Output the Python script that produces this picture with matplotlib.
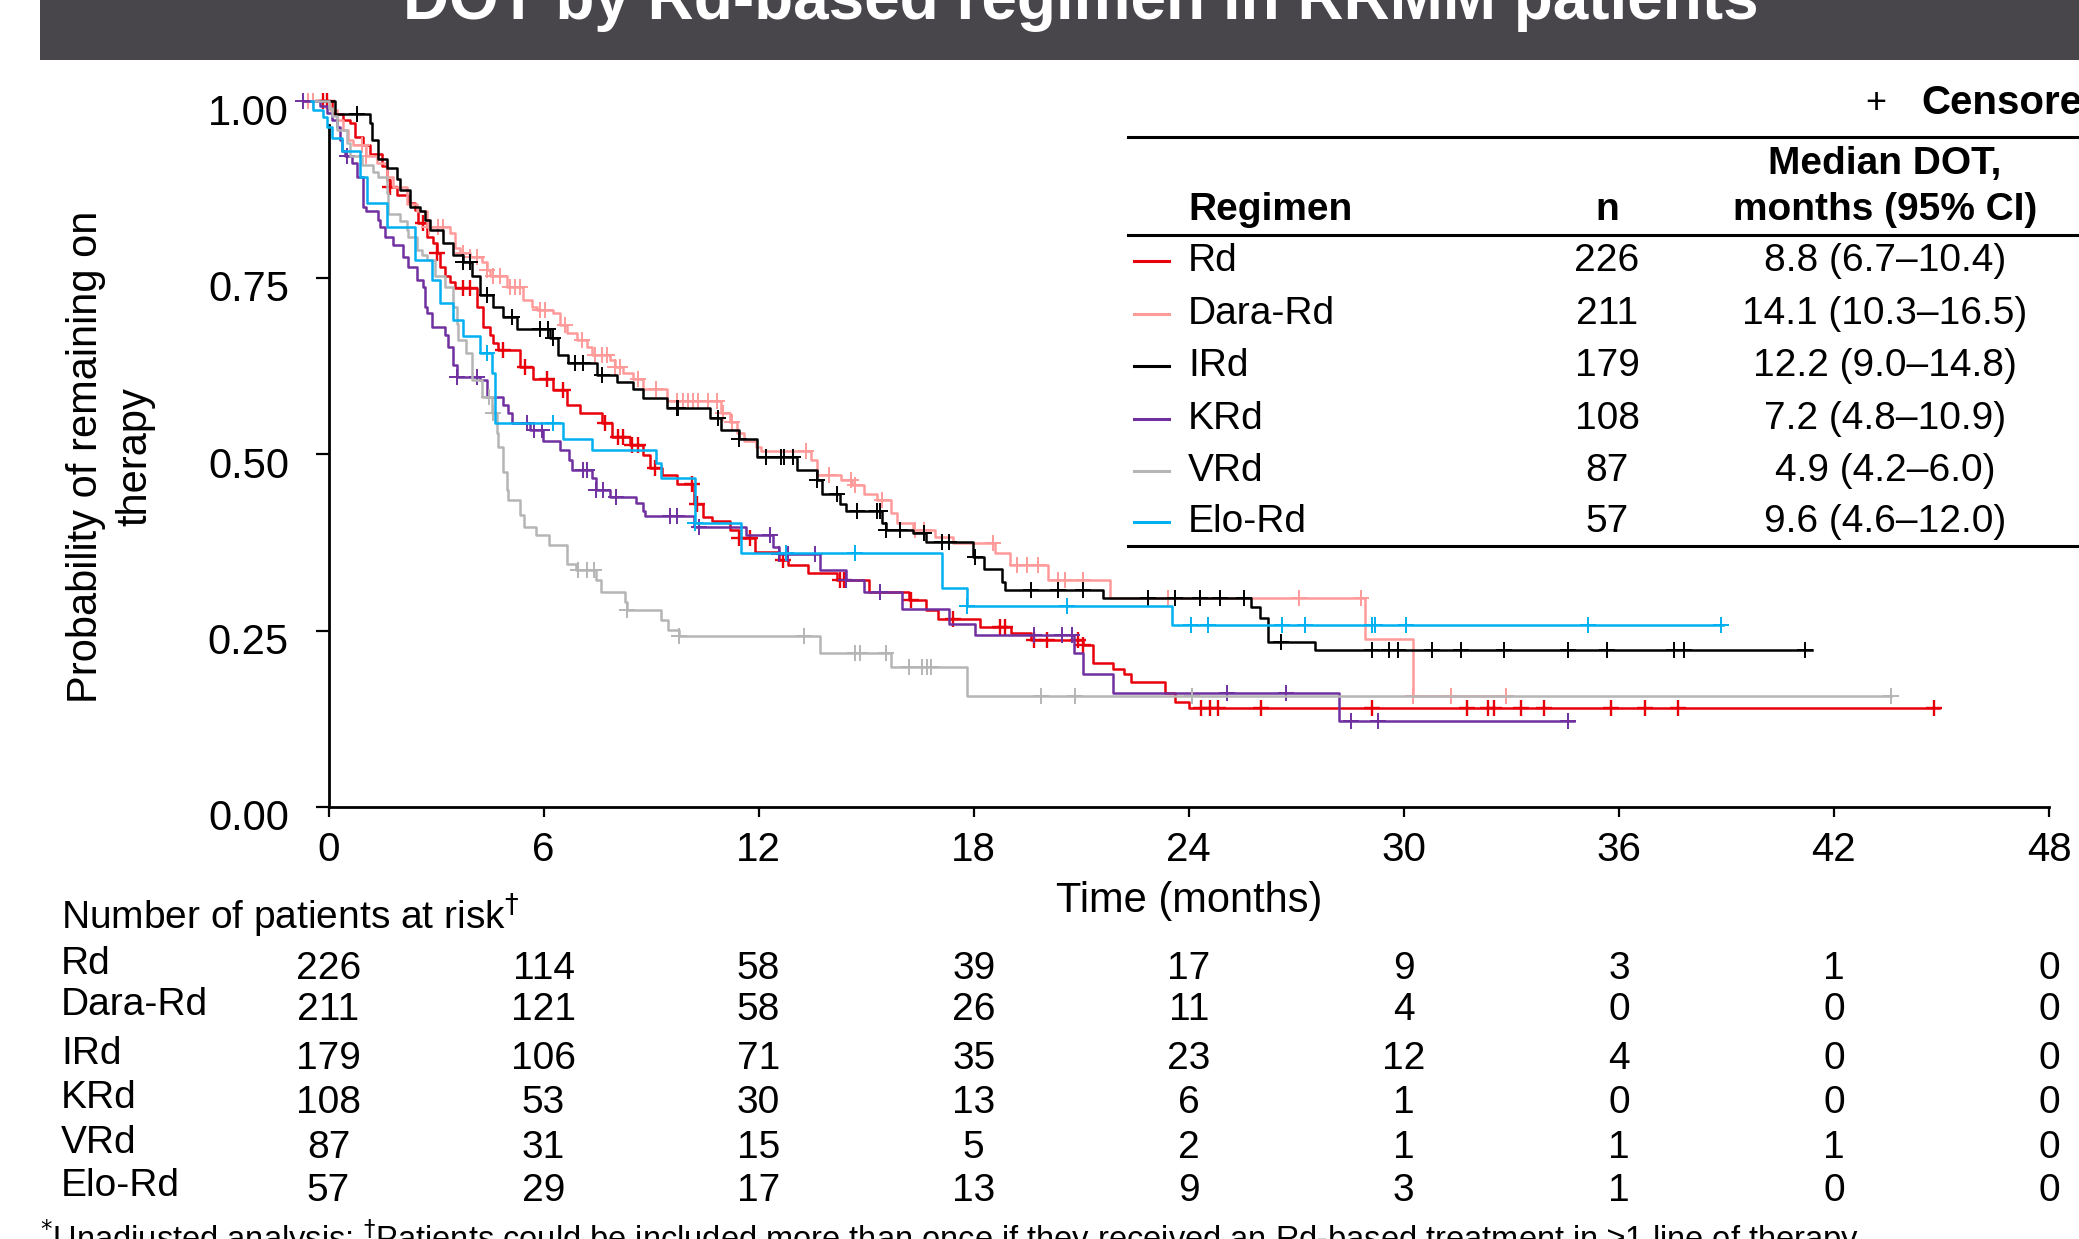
import numpy as np
import matplotlib.pyplot as plt
from matplotlib.lines import Line2D
from matplotlib.patches import Rectangle
from matplotlib.transforms import blended_transform_factory, ScaledTranslation

plt.rcParams['font.family'] = ['Liberation Sans', 'DejaVu Sans']

W, H = 2079, 1239

regimens = ['Rd', 'Dara-Rd', 'IRd', 'KRd', 'VRd', 'Elo-Rd']
colors = ['#e8000b', '#ff9a9a', '#000000', '#7030a0', '#b5b5b5', '#00b0f0']
n_patients = [226, 211, 179, 108, 87, 57]
median_dot = ['8.8 (6.7–10.4)', '14.1 (10.3–16.5)', '12.2 (9.0–14.8)',
              '7.2 (4.8–10.9)', '4.9 (4.2–6.0)', '9.6 (4.6–12.0)']

# (time in months, probability) step points
rd_steps = [(-0.7, 1.0), (0.09, 0.988), (0.13, 0.982), (0.41, 0.974), (0.6, 0.969), (0.74, 0.95),
            (0.97, 0.938), (1.16, 0.926), (1.48, 0.908), (1.62, 0.889), (1.72, 0.879), (1.9, 0.867),
            (2.23, 0.856), (2.41, 0.846), (2.51, 0.827), (2.74, 0.808), (2.92, 0.799), (3.02, 0.785),
            (3.11, 0.766), (3.25, 0.752), (3.39, 0.744), (3.53, 0.735), (4.13, 0.709), (4.32, 0.68),
            (4.51, 0.669), (4.6, 0.657), (4.74, 0.648), (5.34, 0.624), (5.71, 0.607), (6.27, 0.591),
            (6.64, 0.57), (7.02, 0.558), (7.62, 0.544), (7.9, 0.525), (8.41, 0.513), (8.78, 0.499),
            (8.96, 0.48), (9.3, 0.47), (9.71, 0.458), (10.21, 0.43), (10.46, 0.411), (10.71, 0.405),
            (11.2, 0.393), (11.45, 0.381), (11.89, 0.362), (12.58, 0.35), (12.82, 0.343), (13.38, 0.331),
            (14.19, 0.322), (15.07, 0.305), (16.19, 0.293), (16.68, 0.279), (17.0, 0.267), (18.18, 0.255),
            (19.05, 0.246), (19.6, 0.237), (21.04, 0.23), (21.32, 0.204), (21.9, 0.196), (22.18, 0.189),
            (22.38, 0.177), (23.33, 0.161), (23.63, 0.149), (24.01, 0.14), (44.93, 0.14)]
dara_steps = [(-0.66, 1.0), (0.04, 0.988), (0.23, 0.974), (0.41, 0.959), (0.55, 0.945), (0.69, 0.938),
              (1.06, 0.922), (1.34, 0.912), (1.62, 0.893), (1.81, 0.879), (2.18, 0.855), (2.46, 0.844),
              (2.74, 0.822), (3.39, 0.813), (3.53, 0.792), (3.67, 0.785), (3.95, 0.78), (4.27, 0.773),
              (4.41, 0.761), (4.5, 0.752), (4.97, 0.737), (5.43, 0.718), (5.67, 0.709), (5.81, 0.704),
              (6.27, 0.7), (6.46, 0.683), (6.64, 0.672), (6.92, 0.662), (7.2, 0.652), (7.34, 0.641),
              (7.85, 0.633), (7.99, 0.624), (8.22, 0.615), (8.5, 0.607), (8.78, 0.593), (9.43, 0.576),
              (10.96, 0.558), (11.2, 0.546), (11.39, 0.53), (11.58, 0.518), (11.94, 0.51), (12.08, 0.504),
              (13.45, 0.492), (13.63, 0.47), (14.3, 0.463), (14.6, 0.456), (14.94, 0.444), (15.31, 0.435),
              (15.69, 0.416), (15.87, 0.402), (16.31, 0.393), (16.93, 0.383), (17.43, 0.374), (18.6, 0.36),
              (19.02, 0.343), (20.08, 0.322), (21.8, 0.296), (28.91, 0.238), (30.25, 0.158), (32.94, 0.158)]
ird_steps = [(-0.24, 1.0), (0.18, 0.982), (1.16, 0.97), (1.2, 0.946), (1.39, 0.919), (1.62, 0.905),
             (1.9, 0.89), (1.99, 0.874), (2.27, 0.851), (2.55, 0.844), (2.69, 0.832), (2.83, 0.818),
             (3.2, 0.799), (3.48, 0.782), (3.76, 0.773), (3.99, 0.752), (4.23, 0.726), (4.6, 0.709),
             (4.88, 0.695), (5.25, 0.678), (6.18, 0.664), (6.41, 0.641), (6.69, 0.629), (7.48, 0.612),
             (8.04, 0.602), (8.5, 0.593), (8.78, 0.579), (9.43, 0.565), (10.64, 0.551), (10.96, 0.534),
             (11.45, 0.522), (11.95, 0.496), (13.07, 0.477), (13.63, 0.463), (13.76, 0.444), (14.26, 0.43),
             (14.44, 0.419), (15.44, 0.402), (15.56, 0.393), (16.31, 0.388), (16.68, 0.376), (17.99, 0.355),
             (18.3, 0.338), (18.8, 0.319), (18.86, 0.308), (21.61, 0.296), (25.74, 0.284), (25.99, 0.268),
             (26.22, 0.234), (27.52, 0.2225), (41.38, 0.2225)]
krd_steps = [(-0.7, 1.0), (-0.24, 0.993), (-0.05, 0.983), (0.09, 0.974), (0.23, 0.964), (0.32, 0.945),
             (0.37, 0.929), (0.46, 0.922), (0.65, 0.912), (0.79, 0.893), (0.97, 0.851), (1.06, 0.844),
             (1.39, 0.832), (1.44, 0.822), (1.58, 0.808), (1.81, 0.796), (2.09, 0.78), (2.23, 0.766),
             (2.46, 0.747), (2.65, 0.737), (2.69, 0.709), (2.74, 0.7), (2.88, 0.68), (3.25, 0.669),
             (3.34, 0.652), (3.48, 0.626), (3.58, 0.61), (4.23, 0.605), (4.41, 0.581), (4.88, 0.57),
             (5.02, 0.558), (5.11, 0.544), (5.62, 0.534), (5.99, 0.518), (6.46, 0.506), (6.72, 0.492),
             (6.78, 0.477), (7.34, 0.466), (7.47, 0.449), (7.84, 0.44), (8.59, 0.431), (8.78, 0.419),
             (8.84, 0.412), (10.21, 0.397), (11.64, 0.386), (12.39, 0.369), (12.58, 0.358), (13.7, 0.336),
             (14.44, 0.322), (14.94, 0.305), (16.0, 0.28), (17.31, 0.26), (18.05, 0.244), (20.8, 0.218),
             (21.04, 0.188), (21.9, 0.161), (28.2, 0.122), (34.76, 0.122)]
vrd_steps = [(-0.42, 1.0), (0.0, 0.99), (0.1, 0.98), (0.23, 0.959), (0.51, 0.941), (0.6, 0.922),
             (0.93, 0.91), (1.25, 0.9), (1.39, 0.893), (1.62, 0.87), (1.66, 0.841), (1.99, 0.83),
             (2.18, 0.818), (2.23, 0.808), (2.46, 0.789), (2.6, 0.782), (2.74, 0.775), (2.97, 0.752),
             (3.25, 0.737), (3.48, 0.709), (3.58, 0.685), (3.62, 0.662), (3.85, 0.643), (3.99, 0.605),
             (4.27, 0.581), (4.55, 0.558), (4.69, 0.53), (4.74, 0.51), (4.88, 0.475), (4.97, 0.449),
             (5.02, 0.435), (5.35, 0.414), (5.45, 0.397), (5.79, 0.385), (6.16, 0.371), (6.66, 0.345),
             (6.91, 0.336), (7.47, 0.322), (7.59, 0.305), (8.28, 0.291), (8.34, 0.279), (9.28, 0.265),
             (9.46, 0.251), (9.77, 0.243), (13.7, 0.218), (15.69, 0.199), (17.8, 0.157), (43.6, 0.157)]
elo_steps = [(-0.5, 1.0), (-0.42, 0.988), (-0.14, 0.978), (-0.05, 0.964), (0.09, 0.948), (0.37, 0.929),
             (0.88, 0.893), (1.07, 0.856), (1.62, 0.822), (2.41, 0.775), (2.88, 0.747), (3.11, 0.714),
             (3.48, 0.69), (3.76, 0.667), (4.23, 0.643), (4.55, 0.615), (4.64, 0.544), (6.55, 0.522),
             (7.34, 0.506), (9.15, 0.487), (9.29, 0.466), (10.22, 0.403), (11.52, 0.36), (17.12, 0.31),
             (17.8, 0.285), (23.53, 0.258), (38.9, 0.258)]

# censoring times (months)
rd_cens = [-0.14, -0.05, 1.72, 2.65, 3.02, 3.76, 3.95, 4.88, 5.48, 6.1, 6.55, 7.71, 8.09, 8.22, 8.47,
           8.64, 9.11, 10.15, 10.27, 11.45, 11.77, 12.67, 14.26, 14.38, 16.25, 17.43, 18.74, 18.86,
           19.67, 20.05, 20.92, 21.04, 24.35, 24.58, 24.82, 26.02, 29.1, 31.75, 32.36, 32.51, 33.28,
           33.9, 35.78, 36.74, 37.64, 44.8]
dara_cens = [-0.56, -0.42, 0.93, 1.06, 2.79, 3.06, 3.2, 3.76, 3.95, 4.13, 4.41, 4.6, 4.78, 5.06, 5.2,
             5.34, 5.9, 6.04, 6.6, 7.06, 7.43, 7.62, 7.76, 7.99, 8.13, 8.64, 9.15, 9.71, 9.9, 10.04,
             10.18, 10.32, 10.58, 10.83, 11.02, 11.27, 13.32, 13.95, 14.57, 14.69, 15.44, 16.37, 16.62,
             18.55, 19.21, 19.5, 19.79, 20.36, 20.55, 21.04, 23.43, 27.08, 28.81, 30.25, 31.31, 32.84]
ird_cens = [0.79, 3.76, 3.95, 4.41, 5.11, 5.9, 6.13, 6.27, 6.88, 7.11, 7.62, 9.71, 9.76, 10.86, 11.45,
            12.2, 12.62, 12.71, 12.95, 13.63, 14.19, 14.75, 15.29, 15.38, 15.56, 15.94, 16.62, 17.12,
            17.31, 18.05, 19.6, 20.36, 21.04, 22.86, 23.63, 24.3, 24.87, 25.54, 26.56, 29.1, 29.58,
            29.83, 30.79, 31.59, 32.8, 34.57, 35.68, 37.55, 37.83, 41.19]
krd_cens = [-0.7, 0.51, 3.58, 4.13, 5.55, 5.73, 5.95, 7.1, 7.22, 7.47, 7.66, 8.03, 9.52, 9.71, 10.33,
            12.33, 12.58, 12.82, 13.57, 14.44, 15.38, 19.67, 20.46, 20.75, 25.07, 26.7, 28.52, 29.29, 34.57]
vrd_cens = [4.48, 4.6, 6.97, 7.22, 7.41, 8.34, 9.77, 13.26, 14.69, 14.82, 15.56, 16.19, 16.56, 16.69,
            16.81, 19.88, 20.83, 24.09, 43.6]
elo_cens = [4.41, 6.27, 10.22, 12.76, 14.69, 17.8, 20.6, 24.07, 24.55, 26.6, 27.24, 29.1, 29.19,
            30.06, 35.14, 38.85]

steps_all = [rd_steps, dara_steps, ird_steps, krd_steps, vrd_steps, elo_steps]
cens_all = [rd_cens, dara_cens, ird_cens, krd_cens, vrd_cens, elo_cens]

# number at risk
risk_times = [0, 6, 12, 18, 24, 30, 36, 42, 48]
risk_rd = [226, 114, 58, 39, 17, 9, 3, 1, 0]
risk_dara = [211, 121, 58, 26, 11, 4, 0, 0, 0]
risk_ird = [179, 106, 71, 35, 23, 12, 4, 0, 0]
risk_krd = [108, 53, 30, 13, 6, 1, 0, 0, 0]
risk_vrd = [87, 31, 15, 5, 2, 1, 1, 1, 0]
risk_elo = [57, 29, 17, 13, 9, 3, 1, 0, 0]
risk_all = [risk_rd, risk_dara, risk_ird, risk_krd, risk_vrd, risk_elo]


def fx(px):
    return px / W


def fy(py):
    return 1 - py / H


def step_value(t, ts, ss):
    i = np.searchsorted(ts, t, side='right') - 1
    return ss[max(i, 0)]


fig = plt.figure(figsize=(W / 100, H / 100), dpi=100)

# title bar (cropped at top)
fig.patches.append(Rectangle((fx(40), fy(60)), 1 - fx(40), 1 - fy(60), transform=fig.transFigure,
                             facecolor='#48464b', edgecolor='none', zorder=0))
fig.text(fx(1081), fy(19), 'DOT by Rd-based regimen in RRMM patients', color='white',
         fontsize=46, fontweight='bold', ha='center', va='baseline')

ax = fig.add_axes([fx(328.5), fy(807), fx(2049) - fx(328.5), fy(101.4) - fy(807)])
ax.set_xlim(0, 48)
ax.set_ylim(0, 1)
ax.spines['top'].set_visible(False)
ax.spines['right'].set_visible(False)
ax.spines['left'].set_bounds(0, 0.967)
ax.spines['left'].set_linewidth(2.0)
ax.spines['bottom'].set_linewidth(2.0)
ax.set_xticks(risk_times)
ax.set_yticks([0, 0.25, 0.5, 0.75, 1.0])
ax.set_yticklabels(['0.00', '0.25', '0.50', '0.75', '1.00'])
ax.tick_params(axis='y', length=9.5, width=1.6, labelsize=30, pad=19)
ax.tick_params(axis='x', length=7, width=1.6, labelsize=29, pad=10)
for lab in ax.get_yticklabels():
    lab.set_transform(lab.get_transform() + ScaledTranslation(0, -0.08, fig.dpi_scale_trans))

order = [4, 1, 5, 3, 2, 0]
for k in order:
    ts = np.array([p[0] for p in steps_all[k]])
    ss = np.array([p[1] for p in steps_all[k]])
    ax.step(ts, ss, where='post', color=colors[k], lw=1.8, clip_on=False, zorder=3 + k * 0.1)
    cy = [step_value(t, ts, ss) for t in cens_all[k]]
    ax.plot(cens_all[k], cy, ls='none', marker='+', ms=12, mew=1.7 if k == 0 else 1.4,
            color=colors[k], clip_on=False, zorder=3 + k * 0.1)

fig.text(fx(111), fy(457), 'Probability of remaining on\ntherapy', rotation=90, fontsize=30,
         ha='center', va='center', linespacing=1.3, multialignment='center')
fig.text(fx(1189), fy(901), 'Time (months)', fontsize=30, ha='center', va='center')

# censored key and summary table
fig.text(fx(1876), fy(103), '+', fontsize=26, ha='center', va='center')
fig.text(fx(1921), fy(103), 'Censored', fontsize=29, fontweight='bold', ha='left', va='center')
for yline in [136.6, 234.7, 546.3]:
    fig.add_artist(Line2D([fx(1128), 1.0], [fy(yline), fy(yline)], transform=fig.transFigure,
                          color='black', lw=2.2))
fig.text(fx(1188), fy(209.5), 'Regimen', fontsize=28, fontweight='bold', ha='left', va='center')
fig.text(fx(1607), fy(209.5), 'n', fontsize=28, fontweight='bold', ha='center', va='center')
fig.text(fx(1885), fy(164.4), 'Median DOT,', fontsize=28, fontweight='bold', ha='center', va='center')
fig.text(fx(1885), fy(209.5), 'months (95% CI)', fontsize=28, fontweight='bold', ha='center', va='center')
row_y = [261.2, 314.2, 366, 419, 470.7, 522.4]
for k in range(6):
    fig.add_artist(Line2D([fx(1134), fx(1169)], [fy(row_y[k]), fy(row_y[k])], transform=fig.transFigure,
                          color=colors[k], lw=2.2))
    fig.text(fx(1188), fy(row_y[k]), regimens[k], fontsize=28, ha='left', va='center')
    fig.text(fx(1607), fy(row_y[k]), str(n_patients[k]), fontsize=28, ha='center', va='center')
    fig.text(fx(1885), fy(row_y[k]), median_dot[k], fontsize=28, ha='center', va='center')

# number at risk table
fig.text(fx(61), fy(915), r'Number of patients at risk$^{\dagger}$', fontsize=28, ha='left', va='center')
risk_y = [969, 1010, 1059, 1103, 1148, 1191]
trans = blended_transform_factory(ax.transData, fig.transFigure)
for k in range(6):
    fig.text(fx(61), fy(risk_y[k] - 5), regimens[k], fontsize=28, ha='left', va='center')
    for t, v in zip(risk_times, risk_all[k]):
        ax.text(t, fy(risk_y[k]), str(v), transform=trans, fontsize=28, ha='center', va='center',
                clip_on=False)

fig.text(fx(40), fy(1217), r'$^{*}$Unadjusted analysis; $^{\dagger}$Patients could be included more than '
         'once if they received an Rd-based treatment in ≥1 line of therapy', fontsize=23.5,
         ha='left', va='top')

fig.savefig('out.png', dpi=100)
